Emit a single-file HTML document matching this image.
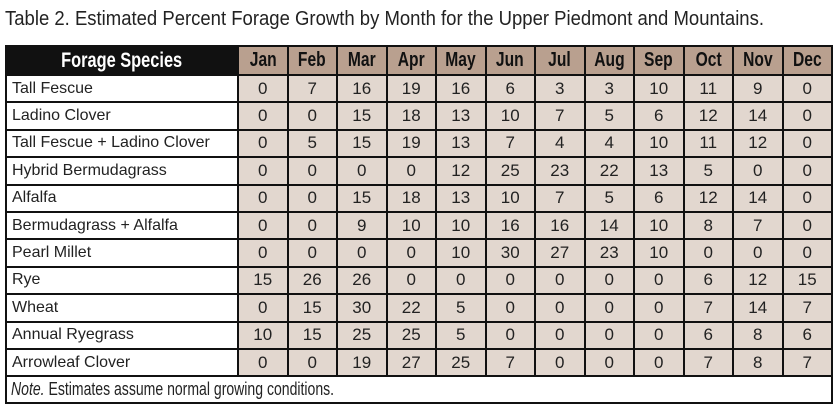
<!DOCTYPE html>
<html><head><style>
body{margin:0;background:#fff;width:837px;height:414px;overflow:hidden;font-family:"Liberation Sans",sans-serif;}
svg.t{position:absolute;left:0;top:0}
table{position:absolute;left:5px;top:45px;border-collapse:collapse;table-layout:fixed;width:826px;border:2.5px solid #111}
td,th{border:2px solid #111;padding:0;text-align:center;font-size:17px;color:#222;font-weight:normal;white-space:nowrap;overflow:hidden}
tr{height:27.4px}
tr.hd{height:29px}
tr.nt{height:27px}
td{background:#e2d7cf}
td.s{background:#fff;text-align:left;padding-left:5px;font-size:16px}
th{background:#b9a08f;font-weight:bold;font-size:20px;color:#111}
th span,td.n span{display:inline-block;transform:scaleX(0.78);transform-origin:center}
th.h{background:#111;color:#fff;font-size:21px}
td.n{background:#fff;text-align:left;padding-left:4px;font-size:18px}
td.n span{transform-origin:left}
</style></head><body>
<svg class="t" width="837" height="40"><text x="5" y="25" font-family="Liberation Sans, sans-serif" font-size="20" fill="#222" textLength="759" lengthAdjust="spacingAndGlyphs">Table 2. Estimated Percent Forage Growth by Month for the Upper Piedmont and Mountains.</text></svg>
<table>
<colgroup><col style="width:232px"><col span="12" style="width:49.5px"></colgroup>
<tr class="hd"><th class="h"><span>Forage Species</span></th><th><span>Jan</span></th><th><span>Feb</span></th><th><span>Mar</span></th><th><span>Apr</span></th><th><span>May</span></th><th><span>Jun</span></th><th><span>Jul</span></th><th><span>Aug</span></th><th><span>Sep</span></th><th><span>Oct</span></th><th><span>Nov</span></th><th><span>Dec</span></th></tr>
<tr><td class="s">Tall Fescue</td><td>0</td><td>7</td><td>16</td><td>19</td><td>16</td><td>6</td><td>3</td><td>3</td><td>10</td><td>11</td><td>9</td><td>0</td></tr>
<tr><td class="s">Ladino Clover</td><td>0</td><td>0</td><td>15</td><td>18</td><td>13</td><td>10</td><td>7</td><td>5</td><td>6</td><td>12</td><td>14</td><td>0</td></tr>
<tr><td class="s">Tall Fescue + Ladino Clover</td><td>0</td><td>5</td><td>15</td><td>19</td><td>13</td><td>7</td><td>4</td><td>4</td><td>10</td><td>11</td><td>12</td><td>0</td></tr>
<tr><td class="s">Hybrid Bermudagrass</td><td>0</td><td>0</td><td>0</td><td>0</td><td>12</td><td>25</td><td>23</td><td>22</td><td>13</td><td>5</td><td>0</td><td>0</td></tr>
<tr><td class="s">Alfalfa</td><td>0</td><td>0</td><td>15</td><td>18</td><td>13</td><td>10</td><td>7</td><td>5</td><td>6</td><td>12</td><td>14</td><td>0</td></tr>
<tr><td class="s">Bermudagrass + Alfalfa</td><td>0</td><td>0</td><td>9</td><td>10</td><td>10</td><td>16</td><td>16</td><td>14</td><td>10</td><td>8</td><td>7</td><td>0</td></tr>
<tr><td class="s">Pearl Millet</td><td>0</td><td>0</td><td>0</td><td>0</td><td>10</td><td>30</td><td>27</td><td>23</td><td>10</td><td>0</td><td>0</td><td>0</td></tr>
<tr><td class="s">Rye</td><td>15</td><td>26</td><td>26</td><td>0</td><td>0</td><td>0</td><td>0</td><td>0</td><td>0</td><td>6</td><td>12</td><td>15</td></tr>
<tr><td class="s">Wheat</td><td>0</td><td>15</td><td>30</td><td>22</td><td>5</td><td>0</td><td>0</td><td>0</td><td>0</td><td>7</td><td>14</td><td>7</td></tr>
<tr><td class="s">Annual Ryegrass</td><td>10</td><td>15</td><td>25</td><td>25</td><td>5</td><td>0</td><td>0</td><td>0</td><td>0</td><td>6</td><td>8</td><td>6</td></tr>
<tr><td class="s">Arrowleaf Clover</td><td>0</td><td>0</td><td>19</td><td>27</td><td>25</td><td>7</td><td>0</td><td>0</td><td>0</td><td>7</td><td>8</td><td>7</td></tr>
<tr class="nt"><td class="n" colspan="13"><span><i>Note.</i> Estimates assume normal growing conditions.</span></td></tr>
</table>
</body></html>
